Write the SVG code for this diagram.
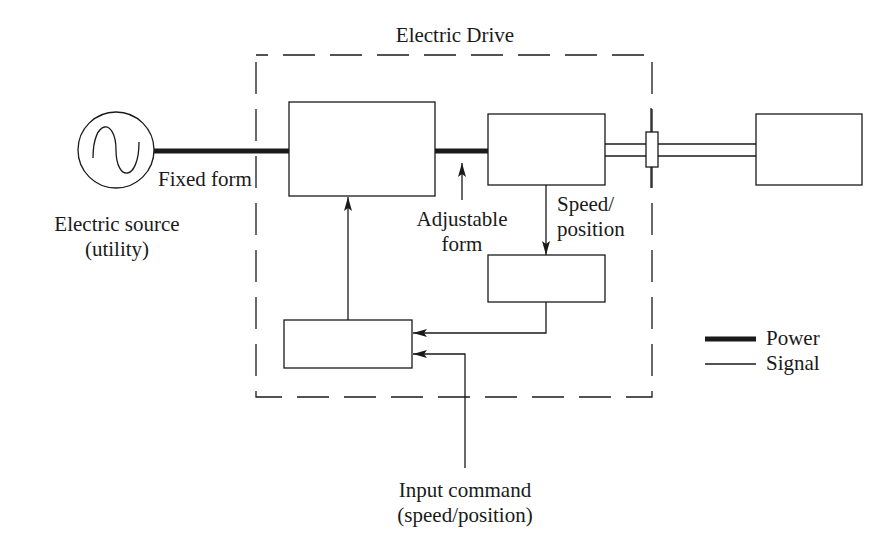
<svg xmlns="http://www.w3.org/2000/svg" width="894" height="545" viewBox="0 0 894 545">
<style>
text{font-family:"Liberation Serif","Times New Roman",serif;font-size:21px;fill:#1a1a1a}
.box{fill:#fff;stroke:#1a1a1a;stroke-width:1.3}
.sig{fill:none;stroke:#1a1a1a;stroke-width:1.3}
.pow{fill:none;stroke:#1a1a1a;stroke-width:5}
</style>
<defs>
<marker id="ah" viewBox="0 0 14 8" refX="14" refY="4" markerWidth="14" markerHeight="8" markerUnits="userSpaceOnUse" orient="auto">
<path d="M0,0 L14,4 L0,8 L3,4 Z" fill="#1a1a1a"/>
</marker>
</defs>
<rect id="drive-boundary" x="256" y="55" width="396" height="342" fill="none" stroke="#1a1a1a" stroke-width="1.3" stroke-dasharray="32 15" stroke-dashoffset="20"/>
<text x="455" y="42" text-anchor="middle">Electric Drive</text>
<g id="connectors">
<line class="pow" x1="154" y1="151" x2="289" y2="151"/>
<line class="pow" x1="435" y1="151" x2="488" y2="151"/>
<line class="sig" x1="605" y1="144" x2="756" y2="144"/>
<line class="sig" x1="605" y1="156" x2="756" y2="156"/>
<line class="sig" x1="651" y1="108" x2="651" y2="188"/>
<line class="sig" x1="348" y1="320" x2="348" y2="197" marker-end="url(#ah)"/>
<line class="sig" x1="546" y1="185" x2="546" y2="255" marker-end="url(#ah)"/>
<polyline class="sig" points="546,302 546,333 413,333" marker-end="url(#ah)"/>
<polyline class="sig" points="465,468 465,354 413,354" marker-end="url(#ah)"/>
<line class="sig" x1="462" y1="200" x2="462" y2="163" marker-end="url(#ah)"/>
</g>
<g id="source">
<circle cx="116" cy="150" r="38" fill="#fff" stroke="#1a1a1a" stroke-width="1.3"/>
<path d="M93,158 C93,118 116,118 116,150 C116,182 139,182 139,142" fill="none" stroke="#1a1a1a" stroke-width="1.3"/>
<text x="117" y="231" text-anchor="middle">Electric source</text>
<text x="117" y="256" text-anchor="middle">(utility)</text>
</g>
<text x="158" y="186">Fixed form</text>
<g id="converter"><rect class="box" x="289" y="102" width="146" height="94"/></g>
<g id="motor"><rect class="box" x="488" y="114" width="117" height="71"/></g>
<g id="coupling"><rect class="box" x="646" y="132" width="12" height="35"/></g>
<g id="load"><rect class="box" x="756" y="114" width="106" height="71"/></g>
<g id="sensor"><rect class="box" x="488" y="255" width="117" height="47"/></g>
<g id="controller"><rect class="box" x="284" y="320" width="128" height="48"/></g>
<text x="462" y="226" text-anchor="middle">Adjustable</text>
<text x="462" y="251" text-anchor="middle">form</text>
<text x="557" y="211">Speed/</text>
<text x="557" y="236">position</text>
<text x="465" y="497" text-anchor="middle">Input command</text>
<text x="465" y="522" text-anchor="middle">(speed/position)</text>
<g id="legend">
<line class="pow" x1="705" y1="339" x2="756" y2="339"/>
<line class="sig" x1="705" y1="364" x2="756" y2="364"/>
<text x="766" y="345">Power</text>
<text x="766" y="370">Signal</text>
</g>
</svg>
